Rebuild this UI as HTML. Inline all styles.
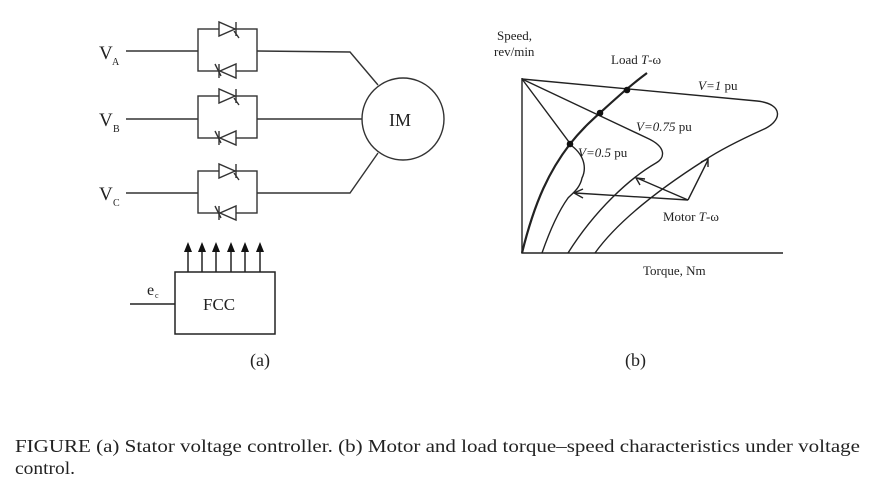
<!DOCTYPE html>
<html><head><meta charset="utf-8"><style>
html,body{margin:0;padding:0;background:#fff;}
svg{display:block;}
text{font-family:"Liberation Serif",serif;fill:#222;}
</style></head><body>
<svg width="872" height="495" viewBox="0 0 872 495" xmlns="http://www.w3.org/2000/svg">
<defs>
<g id="thy" fill="none" stroke="#333" stroke-width="1.4">
  <rect x="0" y="0" width="59" height="42"/>
  <path d="M21,-7 L21,7 L37,0 Z" fill="#fff"/>
  <line x1="38" y1="-7" x2="38" y2="7"/>
  <line x1="36" y1="2" x2="41" y2="9"/>
  <path d="M38,35 L38,49 L22,42 Z" fill="#fff"/>
  <line x1="21" y1="35" x2="21" y2="49"/>
  <line x1="17" y1="35" x2="23" y2="47"/>
</g>
<g id="ar"><line x1="0" y1="30" x2="0" y2="6" stroke="#222" stroke-width="1.5"/><path d="M-4,10 L0,0 L4,10 Z" fill="#111"/></g>
</defs>

<text x="99" y="59" font-size="19">V</text><text x="112" y="65" font-size="10">A</text>
<text x="99" y="126" font-size="19">V</text><text x="113" y="132" font-size="10">B</text>
<text x="99" y="200" font-size="19">V</text><text x="113" y="206" font-size="10">C</text>
<g stroke="#333" stroke-width="1.4" fill="none">
  <line x1="126" y1="51" x2="198" y2="51"/>
  <line x1="126" y1="119" x2="198" y2="119"/>
  <line x1="126" y1="193" x2="198" y2="193"/>
  <polyline points="257,51 350,52 378,85"/>
  <line x1="257" y1="119" x2="362" y2="119"/>
  <polyline points="257,193 350,193 378,153"/>
  <circle cx="403" cy="119" r="41"/>
</g>
<use href="#thy" x="198" y="29"/>
<use href="#thy" x="198" y="96"/>
<use href="#thy" x="198" y="171"/>
<text x="389" y="126" font-size="18">IM</text>

<g stroke="#222" stroke-width="1.5" fill="none">
  <rect x="175" y="272" width="100" height="62"/>
  <line x1="130" y1="304" x2="175" y2="304"/>
</g>
<use href="#ar" x="188" y="242"/>
<use href="#ar" x="202" y="242"/>
<use href="#ar" x="216" y="242"/>
<use href="#ar" x="231" y="242"/>
<use href="#ar" x="245" y="242"/>
<use href="#ar" x="260" y="242"/>
<text x="147" y="295" font-size="16">e</text><text x="155" y="298" font-size="8">c</text>
<text x="203" y="310" font-size="17">FCC</text>
<text x="250" y="366" font-size="18" font-family="Liberation Sans, sans-serif">(a)</text>

<g stroke="#222" stroke-width="1.4" fill="none">
  <polyline points="522,78 522,253 783,253"/>
  <path d="M522,79 L757,101 C785,104 782,122 762,130 C740,140 720,150 705,160 C650,195 615,225 595,253"/>
  <path d="M522,79 L647,138 C667,147 665,158 656,163 C630,178 595,210 568,253"/>
  <path d="M522,79 L572,146 C586,157 586,170 582,178 C580,188 573,193 568,198 C558,212 550,230 542,253"/>
  <path d="M522,253 C535,200 550,170 570,144 C585,125 600,113 612,102 C625,90 635,82 647,73" stroke-width="2.2"/>
  <line x1="688" y1="200" x2="575" y2="193"/>
  <line x1="688" y1="200" x2="637" y2="178"/>
  <polyline points="688,200 708,160"/>
  <polyline points="583,189 574,193 583,198"/>
  <polyline points="640,185 636,178 645,179"/>
  <polyline points="701,162 708,159 708,167"/>
</g>
<g fill="#111">
  <circle cx="627" cy="90" r="3.3"/>
  <circle cx="600" cy="113" r="3.3"/>
  <circle cx="570" cy="144" r="3.3"/>
</g>
<text x="497" y="40" font-size="13">Speed,</text>
<text x="494" y="56" font-size="13">rev/min</text>
<text x="611" y="64" font-size="13">Load <tspan font-style="italic">T</tspan>-ω</text>
<text x="698" y="90" font-size="13"><tspan font-style="italic">V=1</tspan> pu</text>
<text x="636" y="131" font-size="13"><tspan font-style="italic">V=0.75</tspan> pu</text>
<text x="578" y="157" font-size="13"><tspan font-style="italic">V=0.5</tspan> pu</text>
<text x="663" y="221" font-size="13">Motor <tspan font-style="italic">T</tspan>-ω</text>
<text x="643" y="275" font-size="13">Torque, Nm</text>
<text x="625" y="366" font-size="18" font-family="Liberation Sans, sans-serif">(b)</text>

<text x="15" y="452" font-size="18" textLength="845" lengthAdjust="spacingAndGlyphs">FIGURE (a) Stator voltage controller. (b) Motor and load torque–speed characteristics under voltage</text>
<text x="15" y="474" font-size="18" textLength="60" lengthAdjust="spacingAndGlyphs">control.</text>
</svg>
</body></html>
